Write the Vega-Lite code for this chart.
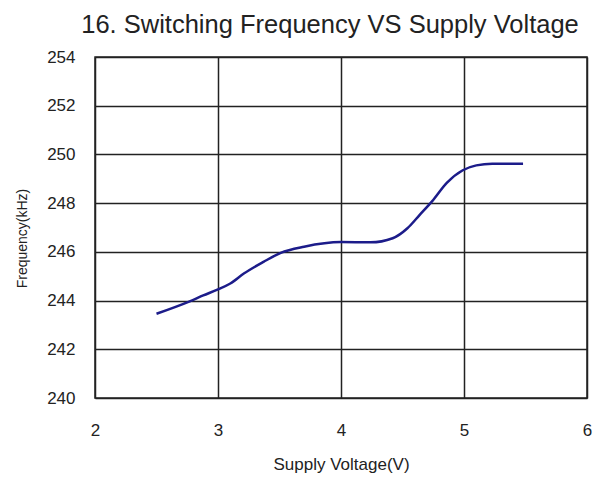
{
  "$schema": "https://vega.github.io/schema/vega-lite/v6.json",
  "width": 492,
  "height": 341,
  "autosize": "none",
  "padding": {"left": 95, "top": 57, "right": 20, "bottom": 83},
  "background": "white",
  "title": {
    "text": "16. Switching Frequency VS Supply Voltage",
    "font": "Liberation Sans",
    "fontSize": 25.5,
    "fontWeight": "normal",
    "color": "#222222",
    "anchor": "middle",
    "offset": 10,
    "dx": -11
  },
  "config": {
    "view": {"stroke": "#222222", "strokeWidth": 1.5},
    "axis": {
      "labelFont": "Liberation Sans",
      "titleFont": "Liberation Sans",
      "labelColor": "#222222",
      "titleColor": "#222222",
      "labelFontSize": 17,
      "titleFontSize": 15,
      "titleFontWeight": "normal",
      "gridColor": "#222222",
      "gridOpacity": 1,
      "gridWidth": 1.5,
      "domain": false,
      "ticks": false,
      "labelFlush": false
    }
  },
  "data": {
    "values": [
      {"v": 2.50, "f": 243.46},
      {"v": 2.77, "f": 243.97},
      {"v": 2.88, "f": 244.21},
      {"v": 3.00, "f": 244.46},
      {"v": 3.10, "f": 244.70},
      {"v": 3.21, "f": 245.11},
      {"v": 3.37, "f": 245.59},
      {"v": 3.51, "f": 245.96},
      {"v": 3.70, "f": 246.21},
      {"v": 4.00, "f": 246.40},
      {"v": 4.24, "f": 246.39},
      {"v": 4.42, "f": 246.56},
      {"v": 4.54, "f": 246.97},
      {"v": 4.64, "f": 247.52},
      {"v": 4.74, "f": 248.07},
      {"v": 4.86, "f": 248.83},
      {"v": 4.99, "f": 249.35},
      {"v": 5.10, "f": 249.55},
      {"v": 5.23, "f": 249.62},
      {"v": 5.48, "f": 249.62}
    ]
  },
  "mark": {"type": "line", "color": "#1c1c8a", "strokeWidth": 2.5, "interpolate": "monotone"},
  "encoding": {
    "x": {
      "field": "v",
      "type": "quantitative",
      "scale": {"domain": [2, 6], "nice": false, "zero": false},
      "axis": {"values": [2, 3, 4, 5, 6], "title": "Supply Voltage(V)", "labelPadding": 24, "titlePadding": 18, "labelLetterSpacing": 1, "titleFontSize": 17, "titleLetterSpacing": 0, "grid": true}
    },
    "y": {
      "field": "f",
      "type": "quantitative",
      "scale": {"domain": [240, 254], "nice": false, "zero": false},
      "axis": {"values": [240, 242, 244, 246, 248, 250, 252, 254], "title": "Frequency(kHz)", "labelPadding": 20, "titlePadding": 17, "titleFontSize": 14, "titleY": 181, "labelLetterSpacing": 1.5, "grid": true}
    }
  }
}
